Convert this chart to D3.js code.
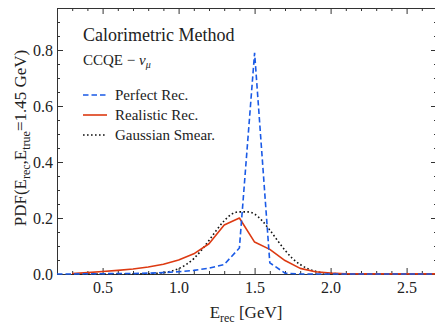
<!DOCTYPE html>
<html>
<head>
<meta charset="utf-8">
<script src="https://cdn.jsdelivr.net/npm/d3@7"></script>
<style>
  body { margin: 0; background: #fff; }
  svg { display: block; font-family: "Liberation Serif", "DejaVu Serif", serif; }
</style>
</head>
<body>
<div id="chart"></div>
<script>
// ---- data ----
const perfectX = [0.2, 0.3, 0.4, 0.5, 0.6, 0.7, 0.8, 0.9, 1.0, 1.1, 1.2, 1.3, 1.4, 1.5, 1.6, 1.7, 1.8, 1.9, 2.0, 2.1, 2.2, 2.3, 2.4, 2.5, 2.6, 2.7];
const perfectY = [0.0, 0.0, 0.001, 0.001, 0.002, 0.002, 0.003, 0.005, 0.008, 0.013, 0.021, 0.034, 0.093, 0.79, 0.04, 0.003, 0.0, 0.0, 0.0, 0.0, 0.0, 0.0, 0.0, 0.0, 0.0, 0.0];

const realisticX = [0.3, 0.4, 0.5, 0.6, 0.7, 0.8, 0.9, 1.0, 1.1, 1.2, 1.3, 1.4, 1.5, 1.6, 1.7, 1.8, 1.9, 2.0, 2.1, 2.2, 2.3, 2.4, 2.5, 2.6, 2.7];
const realisticY = [0.002, 0.005, 0.009, 0.013, 0.018, 0.025, 0.035, 0.05, 0.072, 0.108, 0.175, 0.2, 0.114, 0.088, 0.048, 0.02, 0.008, 0.003, 0.001, 0.0005, 0.0005, 0.0005, 0.0005, 0.0005, 0.0005];

const gaussX = [0.3, 0.5, 0.7, 0.8, 0.85, 0.9, 0.95, 1.0, 1.05, 1.1, 1.15, 1.2, 1.25, 1.3, 1.35, 1.4, 1.45, 1.5, 1.55, 1.6, 1.65, 1.7, 1.75, 1.8, 1.85, 1.9, 1.95, 2.0, 2.05, 2.1, 2.2, 2.4, 2.7];
const gaussY = [0.0, 0.0, 0.0001, 0.0009, 0.0021, 0.0047, 0.0097, 0.019, 0.034, 0.055, 0.085, 0.12, 0.157, 0.19, 0.214, 0.222, 0.222, 0.214, 0.19, 0.157, 0.12, 0.085, 0.055, 0.034, 0.019, 0.0097, 0.0047, 0.0021, 0.0009, 0.0003, 0.0001, 0.0, 0.0];

const xMajorTicks = [0.5, 1.0, 1.5, 2.0, 2.5];
const yMajorTicks = [0.0, 0.2, 0.4, 0.6, 0.8];
const legendLabels = ["Perfect Rec.", "Realistic Rec.", "Gaussian Smear."];

// ---- layout ----
const W = 435, H = 324;
const L = 57, R = 437, T = 8, B = 274;
const colors = { perfect: "#1a5ae6", realistic: "#dd3a12", gauss: "#111" };

const svg = d3.select("#chart").append("svg").attr("width", W).attr("height", H);

const x = d3.scaleLinear().domain([0.2, 2.7]).range([L, R]);
const y = d3.scaleLinear().domain([0, 0.95]).range([B, T]);

const xMinor = d3.range(3, 28).map(d => d / 10).filter(v => !xMajorTicks.some(m => Math.abs(m - v) < 1e-9));
const yMinor = d3.range(0, 20).map(d => d * 0.05).filter(v => !yMajorTicks.some(m => Math.abs(m - v) < 1e-9));

function styleAxis(g) {
  g.selectAll(".domain").attr("stroke", "#333").attr("stroke-width", 1);
  g.selectAll(".tick line").attr("stroke", "#333").attr("stroke-width", 1);
  g.selectAll(".tick text").attr("fill", "#222").style("font-size", "16px").style("font-family", "Liberation Serif, serif");
}

// bottom
svg.append("g").attr("transform", `translate(0,${B})`)
  .call(d3.axisBottom(x).tickValues(xMajorTicks).tickFormat(d3.format(".1f")).tickSize(-6).tickPadding(8).tickSizeOuter(0))
  .call(styleAxis);
svg.append("g").attr("transform", `translate(0,${B})`)
  .call(d3.axisBottom(x).tickValues(xMinor).tickFormat("").tickSize(-3).tickSizeOuter(0))
  .call(styleAxis);
// top
svg.append("g").attr("transform", `translate(0,${T})`)
  .call(d3.axisTop(x).tickValues(xMajorTicks).tickFormat("").tickSize(-6).tickSizeOuter(0))
  .call(styleAxis);
svg.append("g").attr("transform", `translate(0,${T})`)
  .call(d3.axisTop(x).tickValues(xMinor).tickFormat("").tickSize(-3).tickSizeOuter(0))
  .call(styleAxis);
// left
svg.append("g").attr("transform", `translate(${L},0)`)
  .call(d3.axisLeft(y).tickValues(yMajorTicks).tickFormat(d3.format(".1f")).tickSize(-6).tickPadding(4).tickSizeOuter(0))
  .call(styleAxis);
svg.append("g").attr("transform", `translate(${L},0)`)
  .call(d3.axisLeft(y).tickValues(yMinor).tickFormat("").tickSize(-3).tickSizeOuter(0))
  .call(styleAxis);
// right
svg.append("g").attr("transform", `translate(${R},0)`)
  .call(d3.axisRight(y).tickValues(yMajorTicks).tickFormat("").tickSize(-6).tickSizeOuter(0))
  .call(styleAxis);
svg.append("g").attr("transform", `translate(${R},0)`)
  .call(d3.axisRight(y).tickValues(yMinor).tickFormat("").tickSize(-3).tickSizeOuter(0))
  .call(styleAxis);

// ---- lines ----
const lin = d3.line().x(d => x(d[0])).y(d => y(d[1]));
const smooth = d3.line().x(d => x(d[0])).y(d => y(d[1])).curve(d3.curveMonotoneX);

svg.append("path").datum(d3.zip(gaussX, gaussY)).attr("d", smooth)
  .attr("fill", "none").attr("stroke", colors.gauss).attr("stroke-width", 1.6)
  .attr("stroke-dasharray", "1.6,2.4");
svg.append("path").datum(d3.zip(realisticX, realisticY)).attr("d", lin)
  .attr("fill", "none").attr("stroke", colors.realistic).attr("stroke-width", 1.6)
  .attr("stroke-linejoin", "round");
svg.append("path").datum(d3.zip(perfectX, perfectY)).attr("d", lin)
  .attr("fill", "none").attr("stroke", colors.perfect).attr("stroke-width", 1.6)
  .attr("stroke-dasharray", "5.5,3");

// ---- annotations ----
svg.append("text").attr("x", 83).attr("y", 41).attr("font-size", 18).attr("fill", "#222")
  .text("Calorimetric Method");
const t2 = svg.append("text").attr("x", 83).attr("y", 65).attr("font-size", 15).attr("fill", "#222");
t2.append("tspan").text("CCQE \u2212 ");
t2.append("tspan").attr("font-style", "italic").text("\u03BD");
t2.append("tspan").attr("font-style", "italic").attr("font-size", 10).attr("dy", 3).text("\u03BC");

// legend
const legStyles = [
  { c: colors.perfect, dash: "5.5,3" },
  { c: colors.realistic, dash: null },
  { c: colors.gauss, dash: "1.6,2.4" }
];
legendLabels.forEach((lab, i) => {
  const yy = 95 + i * 20;
  const ln = svg.append("line").attr("x1", 83).attr("x2", 107).attr("y1", yy).attr("y2", yy)
    .attr("stroke", legStyles[i].c).attr("stroke-width", 1.6);
  if (legStyles[i].dash) ln.attr("stroke-dasharray", legStyles[i].dash);
  svg.append("text").attr("x", 115).attr("y", yy + 5).attr("font-size", 15).attr("fill", "#222").text(lab);
});

// axis titles
const xt = svg.append("text").attr("x", 246).attr("y", 318).attr("text-anchor", "middle")
  .attr("font-size", 17).attr("fill", "#222");
xt.append("tspan").text("E");
xt.append("tspan").attr("font-size", 12).attr("dy", 4).text("rec");
xt.append("tspan").attr("dy", -4).text(" [GeV]");

const yt = svg.append("text").attr("transform", `translate(26,${138}) rotate(-90)`)
  .attr("text-anchor", "middle").attr("font-size", 17).attr("fill", "#222");
yt.append("tspan").text("PDF(E");
yt.append("tspan").attr("font-size", 12).attr("dy", 4).text("rec");
yt.append("tspan").attr("dy", -4).text(",E");
yt.append("tspan").attr("font-size", 12).attr("dy", 4).text("true");
yt.append("tspan").attr("dy", -4).text("=1.45 GeV)");
</script>
</body>
</html>
